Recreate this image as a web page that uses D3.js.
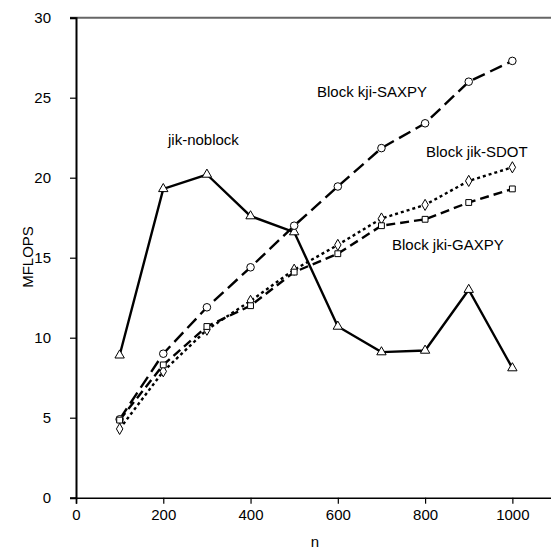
<!DOCTYPE html>
<html><head><meta charset="utf-8">
<script src="https://cdn.jsdelivr.net/npm/d3@7"></script>
<style>body{margin:0;background:#fff}svg{display:block}</style>
</head><body>
<script>
const nValues = [100,200,300,400,500,600,700,800,900,1000];
const jikNoblock = [8.9,19.3,20.2,17.6,16.6,10.7,9.1,9.2,13.0,8.1];
const kjiSaxpy = [4.9,9.0,11.9,14.4,17.0,19.45,21.85,23.4,26.0,27.3];
const jikSdot = [4.3,7.9,10.5,12.3,14.25,15.8,17.45,18.3,19.8,20.65];
const jkiGaxpy = [4.85,8.3,10.7,12.0,14.1,15.25,17.0,17.4,18.45,19.3];
const xTicks = [0,200,400,600,800,1000];
const yTicks = [0,5,10,15,20,25,30];
const seriesNames = ["jik-noblock","Block kji-SAXPY","Block jik-SDOT","Block jki-GAXPY"];

const W=551,H=550;
const svg=d3.select("body").append("svg").attr("width",W).attr("height",H);
const x=d3.scaleLinear().domain([0,1100]).range([76,556]);
const y=d3.scaleLinear().domain([0,30]).range([497.7,17.7]);
const font="Liberation Sans, Arial, sans-serif";

// top frame line
svg.append("line").attr("x1",x(0)-6).attr("x2",W).attr("y1",y(30)).attr("y2",y(30))
  .attr("stroke","#666").attr("stroke-width",2);

const xAxis=svg.append("g").attr("transform",`translate(0,${y(0)})`)
  .call(d3.axisBottom(x).tickValues(xTicks).tickSize(6).tickPadding(6).tickFormat(d3.format("d")));
xAxis.select(".domain").attr("stroke","#000").attr("stroke-width",1.6);
const yAxis=svg.append("g").attr("transform",`translate(${x(0)},0)`)
  .call(d3.axisLeft(y).tickValues(yTicks).tickSize(6).tickPadding(19));
yAxis.select(".domain").attr("stroke","#000").attr("stroke-width",2);
svg.selectAll(".tick line").attr("stroke","#000").attr("stroke-width",1.2);
svg.selectAll(".tick text").attr("font-family",font).attr("font-size",15).attr("fill","#000");

svg.append("text").attr("x",315).attr("y",546.5).attr("text-anchor","middle")
  .attr("font-family",font).attr("font-size",15).text("n");
svg.append("text").attr("transform","translate(33,257) rotate(-90)").attr("text-anchor","middle")
  .attr("font-family",font).attr("font-size",15).text("MFLOPS");

const series=[
 {name:seriesNames[0],vals:jikNoblock,dash:null,sym:d3.symbolTriangle,size:38},
 {name:seriesNames[1],vals:kjiSaxpy,dash:"13,6",sym:d3.symbolCircle,size:45},
 {name:seriesNames[2],vals:jikSdot,dash:"3,3",sym:d3.symbolDiamond,size:36},
 {name:seriesNames[3],vals:jkiGaxpy,dash:"9,5",sym:d3.symbolSquare,size:34}
];
const line=d3.line().x((d,i)=>x(nValues[i])).y(d=>y(d));
series.forEach(s=>{
  svg.append("path").datum(s.vals).attr("d",line).attr("fill","none")
    .attr("stroke","#000").attr("stroke-width",2.4)
    .attr("stroke-dasharray",s.dash);
});
series.forEach(s=>{
  svg.append("g").selectAll("path").data(s.vals).join("path")
    .attr("transform",(d,i)=>`translate(${x(nValues[i])},${y(d)})`)
    .attr("d",d3.symbol().type(s.sym).size(s.size))
    .attr("fill","#fff").attr("stroke","#000").attr("stroke-width",1);
});

const labels=[
 {t:seriesNames[0],x:168,y:144.5},
 {t:seriesNames[1],x:317,y:96.5},
 {t:seriesNames[2],x:426,y:157},
 {t:seriesNames[3],x:392,y:249.5}
];
svg.append("g").selectAll("text").data(labels).join("text")
  .attr("x",d=>d.x).attr("y",d=>d.y).attr("font-family",font).attr("font-size",15)
  .text(d=>d.t);
</script>
</body></html>
